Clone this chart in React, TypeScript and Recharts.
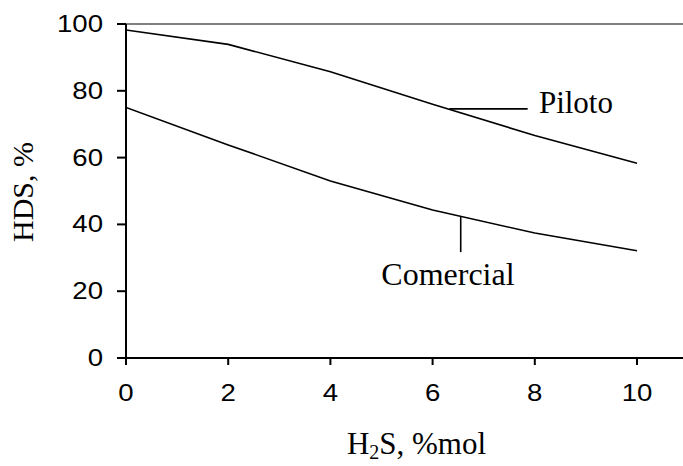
import React from "react";
import {
  LineChart,
  Line,
  XAxis,
  YAxis,
  ReferenceLine,
  ReferenceDot,
} from "recharts";

// H2S, %mol
const h2s = [0, 2, 4, 6, 8, 10];
// HDS, %
const piloto = [98.2, 93.9, 85.7, 76.0, 66.6, 58.3];
const comercial = [75.0, 63.8, 53.0, 44.3, 37.4, 32.1];

const xTicks = [0, 2, 4, 6, 8, 10];
const yTicks = [0, 20, 40, 60, 80, 100];

const data = h2s.map((x, i) => ({ x, piloto: piloto[i], comercial: comercial[i] }));

const SERIF = "'Liberation Serif', 'Times New Roman', serif";
const SANS = "'Liberation Sans', Arial, sans-serif";

// tick numbers in the original are a bit wide, stretch them horizontally
const WideTick = (props: any) => {
  const { x, y, payload, textAnchor } = props;
  const dy = textAnchor === "end" ? 8 : 26;
  return (
    <text
      x={x}
      y={y + dy}
      textAnchor={textAnchor}
      transform={`translate(${x},0) scale(1.2,1) translate(${-x},0)`}
      fontFamily={SANS}
      fontSize={23}
      fill="#000"
    >
      {payload.value}
    </text>
  );
};

const XTitle = (props: any) => {
  const { viewBox } = props;
  const cx = viewBox.x + viewBox.width / 2 + 12;
  return (
    <text x={cx} y={viewBox.y + 96} textAnchor="middle" fontFamily={SERIF} fontSize={31} fill="#000">
      H
      <tspan fontSize={20} dy={5}>2</tspan>
      <tspan dy={-5}>S, %mol</tspan>
    </text>
  );
};

const YTitle = (props: any) => {
  const { viewBox } = props;
  const cy = viewBox.y + viewBox.height / 2 + 1;
  return (
    <text
      x={33}
      y={cy}
      transform={`rotate(-90, 33, ${cy})`}
      textAnchor="middle"
      fontFamily={SERIF}
      fontSize={30}
      fill="#000"
    >
      HDS, %
    </text>
  );
};

export default function App() {
  return (
    <div style={{ position: "absolute", left: 0, top: 0, width: 683, height: 466, background: "#fff" }}>
      <LineChart width={683} height={466} data={data} margin={{ top: 24, right: 0, bottom: 68, left: 0 }}>
        <XAxis
          dataKey="x"
          type="number"
          domain={[0, 10.9]}
          ticks={xTicks}
          allowDataOverflow
          stroke="#000"
          strokeWidth={2}
          tickSize={7}
          tickMargin={10}
          height={40}
          tick={<WideTick />}
          label={<XTitle />}
        />
        <YAxis
          type="number"
          domain={[0, 100]}
          ticks={yTicks}
          width={126}
          stroke="#000"
          strokeWidth={2}
          tickSize={9}
          tickMargin={14}
          tick={<WideTick />}
          label={<YTitle />}
        />
        <ReferenceLine y={100} stroke="#808080" strokeWidth={2} />
        <Line
          dataKey="piloto"
          stroke="#000"
          strokeWidth={1.6}
          dot={false}
          type="linear"
          isAnimationActive={false}
        />
        <Line
          dataKey="comercial"
          stroke="#000"
          strokeWidth={1.6}
          dot={false}
          type="linear"
          isAnimationActive={false}
        />
        <ReferenceLine
          segment={[{ x: 6.33, y: 74.6 }, { x: 7.86, y: 74.6 }]}
          stroke="#000"
          strokeWidth={1.6}
        />
        <ReferenceLine
          segment={[{ x: 6.55, y: 42.2 }, { x: 6.55, y: 31.7 }]}
          stroke="#000"
          strokeWidth={1.6}
        />
        <ReferenceDot
          x={8.08}
          y={76.6}
          r={0}
          stroke="none"
          label={{ value: "Piloto", position: "right", offset: 0, fill: "#000", fontFamily: SERIF, fontSize: 31 }}
        />
        <ReferenceDot
          x={6.3}
          y={25.3}
          r={0}
          stroke="none"
          label={{ value: "Comercial", position: "center", offset: 0, fill: "#000", fontFamily: SERIF, fontSize: 32 }}
        />
      </LineChart>
    </div>
  );
}
